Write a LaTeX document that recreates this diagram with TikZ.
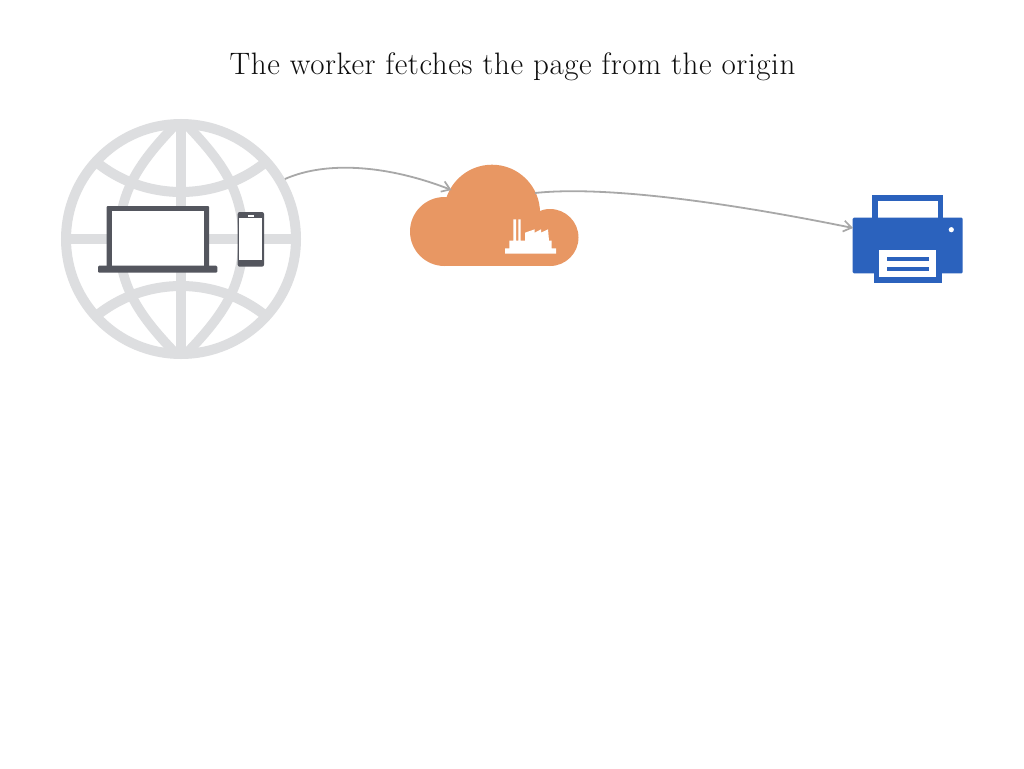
\documentclass[tikz,border=0pt]{standalone}
\usepackage{fontspec}
\setmainfont{Latin Modern Roman}[LetterSpace=1.9]
\usetikzlibrary{arrows.meta}
\definecolor{globegray}{HTML}{DDDEE0}
\definecolor{devicegray}{HTML}{54565E}
\definecolor{cloudorange}{HTML}{E89763}
\definecolor{printerblue}{HTML}{2B62BD}
\definecolor{linkgray}{HTML}{A8A8A8}
\tikzset{
  px/.style={x=1pt,y=-1pt},
  anchorbox/.style={inner sep=0pt,outer sep=0pt,minimum width=#1},
  globeline/.style={draw=globegray,line width=10pt},
  link/.style={draw=linkgray,line width=1.8pt,-{Straight Barb[length=8pt,width=11pt,line width=1.7pt]}},
  titletext/.style={inner sep=0pt,anchor=base,text=black!95,font=\fontsize{31pt}{36pt}\selectfont}
}
\begin{document}
\begin{tikzpicture}[px]
\useasboundingbox (0,0) rectangle (1024,768);
\fill[white] (0,0) rectangle (1024,768);
\node[titletext] (title) at (512.5,74.5) {The worker fetches the page from the origin};
% globe
\begin{scope}
  \clip (181,239) circle[radius=116pt];
  \draw[globeline] (181,57) circle[radius=135pt];
  \draw[globeline] (181,421) circle[radius=135pt];
  \draw[globeline,line width=9.6pt] (181,119) .. controls (143,158) and (119,188) .. (119,239) .. controls (119,290) and (143,320) .. (181,359);
  \draw[globeline,line width=9.6pt] (181,119) .. controls (219,158) and (243,188) .. (243,239) .. controls (243,290) and (219,320) .. (181,359);
  \draw[globeline,line width=9.4pt] (181,120) -- (181,358);
  \draw[globeline,line width=9.4pt] (62,239) -- (300,239);
\end{scope}
\draw[draw=globegray,line width=10pt] (181,239) circle[radius=115pt];
\node[circle,inner sep=0pt,outer sep=0pt,minimum size=240pt] (globe) at (181,239) {};
% laptop
\fill[devicegray,rounded corners=1pt] (106.5,268) -- (106.5,206) -- (209,206) -- (209,268) -- cycle;
\fill[white] (111.7,211.3) rectangle (204,266);
\fill[devicegray,rounded corners=1.2pt] (98,265.7) rectangle (217.3,272.7);
% phone
\fill[devicegray,rounded corners=2pt] (237.7,212) rectangle (264,266.7);
\fill[white] (239.3,218.3) rectangle (262.3,260);
\fill[white] (248,215.2) rectangle (253.5,216.5);
% cloud
\begin{scope}[cloudorange]
  \fill (444.5,231.5) circle[radius=34.5pt];
  \fill (492,212.7) circle[radius=48pt];
  \fill (550,237.5) circle[radius=28.5pt];
  \fill (444.5,215) rectangle (550,266);
\end{scope}
\node[anchorbox=168pt,minimum height=101pt] (cloud) at (494,215.5) {};
\coordinate (cloudin) at (451.5,190);
\coordinate (cloudout) at (535,193);
% factory
\fill[white] (505,253.7) -- (505,248.3) -- (509.3,248.3) -- (509.3,240.7) -- (513.3,240.7) -- (513.3,219.3) -- (516,219.3) -- (516,240.7) -- (518.3,240.7) -- (518.3,219.3) -- (520.7,219.3) -- (520.7,240.7) -- (525,240.7) -- (525,232.7) -- (534.7,229.3) -- (534.7,232.7) -- (541,229.3) -- (541,232.7) -- (548,229.3) -- (549,240.7) -- (551.7,240.7) -- (551.7,248.3) -- (556,248.3) -- (556,253.7) -- cycle;
% printer
\fill[printerblue] (872.3,195) rectangle (943.3,220);
\fill[white] (878.3,201) rectangle (937.7,218);
\fill[printerblue,rounded corners=1.2pt] (852.7,217.7) rectangle (962.7,273.3);
\fill[printerblue] (873.7,270) rectangle (942,283.3);
\fill[white] (879.3,250) rectangle (936,277.3);
\fill[printerblue] (887.3,256.7) rectangle (928.7,261);
\fill[printerblue] (887.3,267) rectangle (928.7,271.3);
\fill[white] (951.3,229.7) circle[radius=2.6pt];
\node[anchorbox=110pt,minimum height=88pt] (printer) at (907.7,239) {};
\coordinate (printerin) at (853,228);
% connectors
\draw[link] (globe.30.6) .. controls (328,160) and (390,166) .. (cloudin);
\draw[link] (cloudout) .. controls (600,186) and (715,200) .. (printerin);
\end{tikzpicture}
\end{document}
